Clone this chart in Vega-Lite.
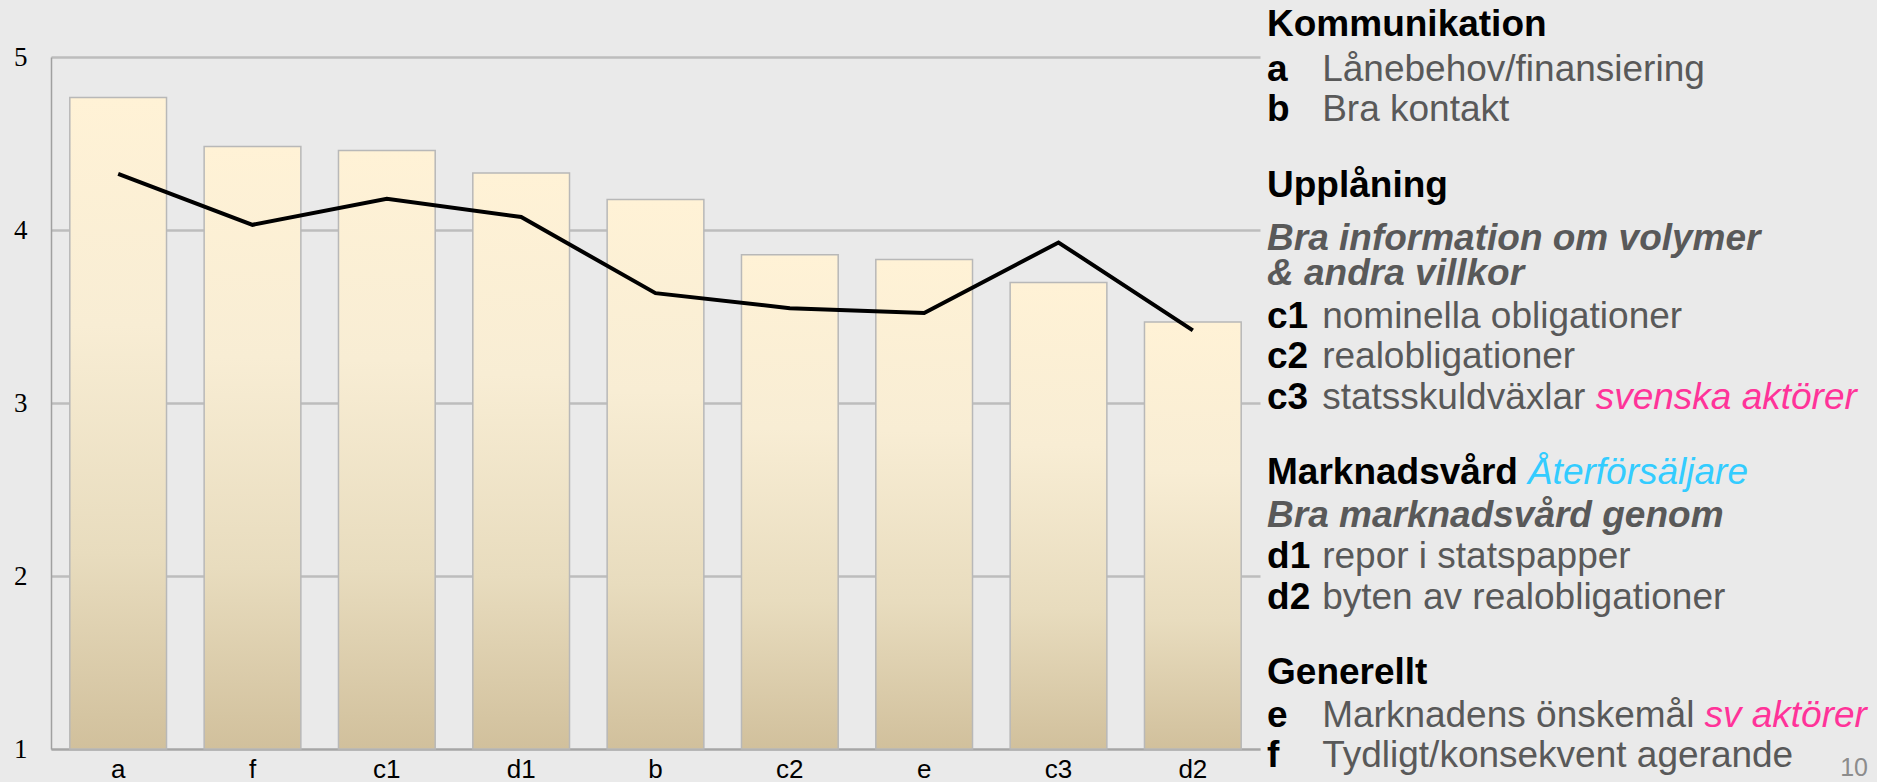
{
  "$schema": "https://vega.github.io/schema/vega-lite/v6.json",
  "autosize": {"type": "pad"},
  "padding": {"left": 13, "top": 6, "right": 0, "bottom": 0},
  "background": "#EAEAEA",
  "spacing": 0,
  "bounds": "flush",
  "config": {"view": {"stroke": null}},
  "datasets": {
    "scores": [
      {"cat": "a", "bar": 4.766, "line": 4.325},
      {"cat": "f", "bar": 4.483, "line": 4.03},
      {"cat": "c1", "bar": 4.46, "line": 4.18},
      {"cat": "d1", "bar": 4.33, "line": 4.075},
      {"cat": "b", "bar": 4.177, "line": 3.635},
      {"cat": "c2", "bar": 3.857, "line": 3.548},
      {"cat": "e", "bar": 3.83, "line": 3.52},
      {"cat": "c3", "bar": 3.697, "line": 3.928},
      {"cat": "d2", "bar": 3.468, "line": 3.42}
    ],
    "notes": [
      {"line": 0, "col": 0.19, "text": "Kommunikation", "kind": "head"},
      {"line": 1.10, "col": 0.19, "text": "a", "kind": "code"},
      {"line": 1.10, "col": 1.68, "text": "Lånebehov/finansiering", "kind": "desc"},
      {"line": 2.07, "col": 0.19, "text": "b", "kind": "code"},
      {"line": 2.07, "col": 1.68, "text": "Bra kontakt", "kind": "desc"},
      {"line": 3.92, "col": 0.19, "text": "Upplåning", "kind": "head"},
      {"line": 5.22, "col": 0.19, "text": "Bra information om volymer", "kind": "sub"},
      {"line": 6.07, "col": 0.19, "text": "& andra villkor", "kind": "sub"},
      {"line": 7.12, "col": 0.19, "text": "c1", "kind": "code"},
      {"line": 7.12, "col": 1.68, "text": "nominella obligationer", "kind": "desc"},
      {"line": 8.10, "col": 0.19, "text": "c2", "kind": "code"},
      {"line": 8.10, "col": 1.68, "text": "realobligationer", "kind": "desc"},
      {"line": 9.10, "col": 0.19, "text": "c3", "kind": "code"},
      {"line": 9.10, "col": 1.68, "text": "statsskuldväxlar", "kind": "desc"},
      {"line": 9.10, "col": 9.07, "text": "svenska aktörer", "kind": "pink"},
      {"line": 10.93, "col": 0.19, "text": "Marknadsvård", "kind": "head"},
      {"line": 10.93, "col": 7.24, "text": "Återförsäljare", "kind": "blue"},
      {"line": 11.97, "col": 0.19, "text": "Bra marknadsvård genom", "kind": "sub"},
      {"line": 12.98, "col": 0.19, "text": "d1", "kind": "code"},
      {"line": 12.98, "col": 1.68, "text": "repor i statspapper", "kind": "desc"},
      {"line": 13.98, "col": 0.19, "text": "d2", "kind": "code"},
      {"line": 13.98, "col": 1.68, "text": "byten av realobligationer", "kind": "desc"},
      {"line": 15.80, "col": 0.19, "text": "Generellt", "kind": "head"},
      {"line": 16.85, "col": 0.19, "text": "e", "kind": "code"},
      {"line": 16.85, "col": 1.68, "text": "Marknadens önskemål", "kind": "desc"},
      {"line": 16.85, "col": 12.01, "text": "sv aktörer", "kind": "pink"},
      {"line": 17.82, "col": 0.19, "text": "f", "kind": "code"},
      {"line": 17.82, "col": 1.68, "text": "Tydligt/konsekvent agerande", "kind": "desc"},
      {"line": 18.05, "col": 16.43, "text": "10", "kind": "page"}
    ]
  },
  "hconcat": [
    {
      "width": 1209,
      "height": 692,
      "data": {"name": "scores"},
      "layer": [
        {
          "mark": {
            "type": "bar",
            "fill": {
              "gradient": "linear", "x1": 0, "y1": 0, "x2": 0, "y2": 1,
              "stops": [
                {"offset": 0, "color": "#FFF2D6"},
                {"offset": 0.35, "color": "#F8EDD4"},
                {"offset": 0.7, "color": "#E8DCBE"},
                {"offset": 1, "color": "#D1C09C"}
              ]
            },
            "stroke": "#B8B8B8",
            "strokeWidth": 1.5
          },
          "encoding": {
            "x": {
              "field": "cat", "type": "nominal", "sort": null,
              "scale": {"paddingInner": 0.28, "paddingOuter": 0.14},
              "axis": {
                "title": null, "labelAngle": 0, "ticks": false,
                "labelFont": "Liberation Sans", "labelFontSize": 26,
                "labelColor": "#000000", "labelPadding": 28, "labelBaseline": "alphabetic",
                "domainColor": "#A6A6A6", "domainWidth": 2, "grid": false
              }
            },
            "y": {
              "field": "bar", "type": "quantitative",
              "scale": {"domain": [1, 5], "zero": false, "nice": false},
              "axis": {
                "title": null, "values": [1, 2, 3, 4, 5], "format": "d", "ticks": false,
                "labelFont": "Liberation Serif", "labelFontSize": 27,
                "labelColor": "#000000", "labelPadding": 24, "labelFlush": false,
                "domainColor": "#A0A0A0", "domainWidth": 1.5,
                "grid": true, "gridColor": "#BDBDBD", "gridWidth": 2.5
              }
            },
            "y2": {"datum": 1}
          }
        },
        {
          "mark": {"type": "line", "color": "#000000", "strokeWidth": 4},
          "encoding": {
            "x": {"field": "cat", "type": "nominal", "sort": null},
            "y": {"field": "line", "type": "quantitative"}
          }
        }
      ]
    },
    {
      "width": 618,
      "height": 692,
      "data": {"name": "notes"},
      "encoding": {
        "x": {"field": "col", "type": "quantitative", "scale": {"domain": [0, 16.7], "nice": false, "zero": false}, "axis": null},
        "y": {"field": "line", "type": "quantitative", "scale": {"domain": [0.512, 17.39], "reverse": true, "nice": false, "zero": false}, "axis": null},
        "text": {"field": "text"}
      },
      "layer": [
        {
          "transform": [{"filter": "datum.kind == 'head' || datum.kind == 'code'"}],
          "mark": {"type": "text", "align": "left", "baseline": "alphabetic", "font": "Liberation Sans", "fontSize": 37, "fontWeight": "bold", "color": "#000000"}
        },
        {
          "transform": [{"filter": "datum.kind == 'desc'"}],
          "mark": {"type": "text", "align": "left", "baseline": "alphabetic", "font": "Liberation Sans", "fontSize": 37, "color": "#595959"}
        },
        {
          "transform": [{"filter": "datum.kind == 'sub'"}],
          "mark": {"type": "text", "align": "left", "baseline": "alphabetic", "font": "Liberation Sans", "fontSize": 37, "fontWeight": "bold", "fontStyle": "italic", "color": "#595959"}
        },
        {
          "transform": [{"filter": "datum.kind == 'pink'"}],
          "mark": {"type": "text", "align": "left", "baseline": "alphabetic", "font": "Liberation Sans", "fontSize": 37, "fontStyle": "italic", "color": "#FF3399"}
        },
        {
          "transform": [{"filter": "datum.kind == 'blue'"}],
          "mark": {"type": "text", "align": "left", "baseline": "alphabetic", "font": "Liberation Sans", "fontSize": 37, "fontStyle": "italic", "color": "#33CCFF"}
        },
        {
          "transform": [{"filter": "datum.kind == 'page'"}],
          "mark": {"type": "text", "align": "right", "baseline": "alphabetic", "font": "Liberation Sans", "fontSize": 25, "color": "#8C8C8C"}
        }
      ]
    }
  ]
}
